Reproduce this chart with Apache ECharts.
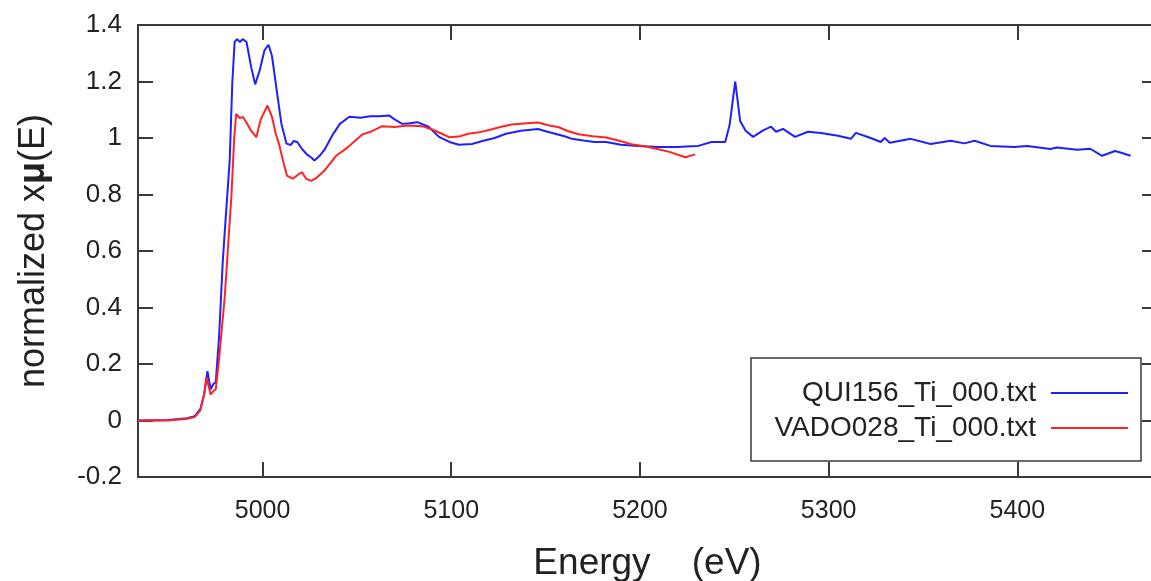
<!DOCTYPE html>
<html>
<head>
<meta charset="utf-8">
<script src="https://cdn.jsdelivr.net/npm/echarts/dist/echarts.min.js"></script>
<style>
  html, body { margin: 0; padding: 0; background: #fff; }
  #chart { width: 1151px; height: 581px; }
</style>
</head>
<body>
<div id="chart"></div>
<script>
// QUI156_Ti_000.txt (blue)
const quiEnergy = [
  4934, 4950, 4960, 4964, 4967, 4969, 4970.8, 4972.5, 4974, 4975.2,
  4977, 4978.9, 4980.5, 4982.6, 4984, 4985.2, 4986.5, 4988, 4989.5, 4991.5,
  4994, 4996.1, 4998.5, 5001, 5003.2, 5005, 5007.9, 5010, 5012.7, 5015,
  5016.5, 5018.5, 5021, 5023.8, 5026, 5027.5, 5030, 5033, 5037, 5041,
  5046, 5052, 5057, 5062, 5067, 5070, 5074, 5078, 5082, 5088,
  5093.5, 5099, 5104, 5111, 5117, 5123, 5129, 5137, 5146, 5150,
  5155, 5160, 5164, 5170, 5176, 5182, 5190, 5199, 5210, 5220,
  5227, 5231, 5237.8, 5245.2, 5247.5, 5250.5, 5253.1, 5256, 5260, 5265,
  5269.5, 5272.1, 5275.8, 5282.2, 5289, 5295.9, 5304.9, 5311.8, 5314.4, 5322.3,
  5327.6, 5329.7, 5332.4, 5343.5, 5354, 5364.6, 5372, 5377.3, 5385.7, 5398.4,
  5405.3, 5417.4, 5421.1, 5431.7, 5438.6, 5444.9, 5451.8, 5455, 5460
];
const quiMu = [
  0.0, 0.002, 0.008, 0.015, 0.04, 0.09, 0.175, 0.11, 0.13, 0.135,
  0.3, 0.56, 0.72, 0.92, 1.2, 1.34, 1.35, 1.34, 1.35, 1.34,
  1.25, 1.19, 1.24, 1.31, 1.33, 1.29, 1.15, 1.05, 0.98, 0.975,
  0.99, 0.985, 0.96, 0.94, 0.93, 0.92, 0.935, 0.96, 1.01, 1.05,
  1.075, 1.072, 1.077, 1.077, 1.08, 1.066, 1.05, 1.052, 1.056, 1.04,
  1.004, 0.986, 0.976, 0.979, 0.99, 1.0, 1.015, 1.026, 1.032, 1.024,
  1.015, 1.006, 0.997, 0.991, 0.986, 0.986, 0.976, 0.972, 0.968, 0.968,
  0.971, 0.972, 0.986, 0.986, 1.046, 1.2, 1.06, 1.026, 1.004, 1.026,
  1.04, 1.022, 1.032, 1.004, 1.022, 1.018, 1.008, 0.997, 1.018, 1.0,
  0.986, 1.0, 0.983, 0.997, 0.979, 0.99, 0.981, 0.99, 0.972, 0.968,
  0.972, 0.961, 0.966, 0.958, 0.962, 0.937, 0.954, 0.948, 0.937
];

// VADO028_Ti_000.txt (red)
const vadoEnergy = [
  4934, 4950, 4960, 4964, 4967, 4969, 4970.3, 4972.5, 4974, 4975.2,
  4977, 4980, 4983.5, 4985, 4986, 4988, 4989.5, 4991.5, 4994, 4996.7,
  4999, 5002.6, 5005, 5007, 5009, 5011, 5013, 5016, 5019, 5021,
  5023, 5025.7, 5028, 5033, 5039, 5045, 5053, 5058, 5063.4, 5070,
  5077, 5084.5, 5090, 5095, 5098.8, 5104, 5109, 5114.7, 5121, 5126,
  5132, 5140, 5146, 5152, 5157, 5162, 5167.5, 5175, 5182, 5189,
  5195.5, 5203, 5209.8, 5216, 5224, 5229.3
];
const vadoMu = [
  0.0, 0.0, 0.006, 0.012, 0.035, 0.09, 0.153, 0.092, 0.105, 0.11,
  0.22, 0.44, 0.795, 1.0, 1.085, 1.07, 1.075, 1.055, 1.025, 1.003,
  1.065, 1.115, 1.075, 1.015, 0.972, 0.915, 0.866, 0.856, 0.871, 0.879,
  0.856, 0.848, 0.856, 0.886, 0.937, 0.966, 1.013, 1.024, 1.042, 1.039,
  1.044, 1.042, 1.03, 1.015, 1.003, 1.005, 1.015, 1.02, 1.03, 1.039,
  1.048, 1.052, 1.055, 1.044, 1.038, 1.024, 1.013, 1.006, 1.002, 0.99,
  0.978, 0.97, 0.96, 0.95, 0.932, 0.942
];

const xTicks = { min: 4934, max: 5474, splitNumber: 5 };
const yTicks = { min: -0.2, max: 1.4, interval: 0.2 };

const chart = echarts.init(document.getElementById('chart'));

const frame = { color: '#3a3a3a', width: 2 };
const font = 'Liberation Sans, Arial, sans-serif';

function zip(xs, ys) {
  return xs.map((x, i) => [x, ys[i]]);
}

const option = {
  animation: false,
  backgroundColor: '#fff',
  grid: { left: 138, right: -6, top: 25, bottom: 104, outerBoundsMode: 'none', containLabel: false },
  legend: {
    orient: 'vertical',
    left: 751,
    top: 358,
    align: 'right',
    icon: 'rect',
    padding: [19, 13, 17, 15],
    itemGap: 3,
    itemWidth: 77,
    itemHeight: 2,
    borderColor: '#3a3a3a',
    borderWidth: 1.5,
    backgroundColor: '#fff',
    textStyle: {
      fontFamily: font,
      fontSize: 28,
      color: '#222',
      width: 270,
      align: 'right',
      lineHeight: 32,
      padding: [0, 10, 0, 0]
    },
    data: ['QUI156_Ti_000.txt', 'VADO028_Ti_000.txt']
  },
  xAxis: [
    {
      type: 'value',
      position: 'bottom',
      ...xTicks,
      name: 'Energy    (eV)',
      nameLocation: 'middle',
      nameGap: 68,
      nameTextStyle: { fontFamily: font, fontSize: 37, color: '#222' },
      axisLine: { onZero: false, lineStyle: frame },
      axisTick: { inside: true, length: 15, lineStyle: frame },
      axisLabel: {
        fontFamily: font, fontSize: 25, color: '#222', margin: 22,
        showMinLabel: false, showMaxLabel: false,
        formatter: v => String(v)
      },
      splitLine: { show: false }
    },
    {
      type: 'value',
      position: 'top',
      ...xTicks,
      axisLine: { onZero: false, lineStyle: frame },
      axisTick: { inside: true, length: 15, lineStyle: frame },
      axisLabel: { show: false },
      splitLine: { show: false }
    }
  ],
  yAxis: [
    {
      type: 'value',
      position: 'left',
      ...yTicks,
      name: 'normalized x{b|μ}(E)',
      nameLocation: 'middle',
      nameGap: 86,
      nameTextStyle: {
        fontFamily: font, fontSize: 36, color: '#222',
        rich: { b: { fontFamily: font, fontSize: 36, fontWeight: 'bold', color: '#222' } }
      },
      axisLine: { onZero: false, lineStyle: frame },
      axisTick: { inside: true, length: 15, lineStyle: frame },
      axisLabel: { fontFamily: font, fontSize: 26, color: '#222', margin: 16 },
      splitLine: { show: false }
    },
    {
      type: 'value',
      position: 'right',
      ...yTicks,
      axisLine: { onZero: false, lineStyle: frame },
      axisTick: { inside: true, length: 15, lineStyle: frame },
      axisLabel: { show: false },
      splitLine: { show: false }
    }
  ],
  series: [
    {
      name: 'QUI156_Ti_000.txt',
      type: 'line',
      xAxisIndex: 0,
      yAxisIndex: 0,
      symbol: 'none',
      color: '#1f1fff',
      lineStyle: { color: '#1f1fff', width: 2 },
      data: zip(quiEnergy, quiMu)
    },
    {
      name: 'VADO028_Ti_000.txt',
      type: 'line',
      xAxisIndex: 0,
      yAxisIndex: 0,
      symbol: 'none',
      color: '#ff2424',
      lineStyle: { color: '#ff2424', width: 2 },
      data: zip(vadoEnergy, vadoMu)
    }
  ]
};

chart.setOption(option);
</script>
</body>
</html>
